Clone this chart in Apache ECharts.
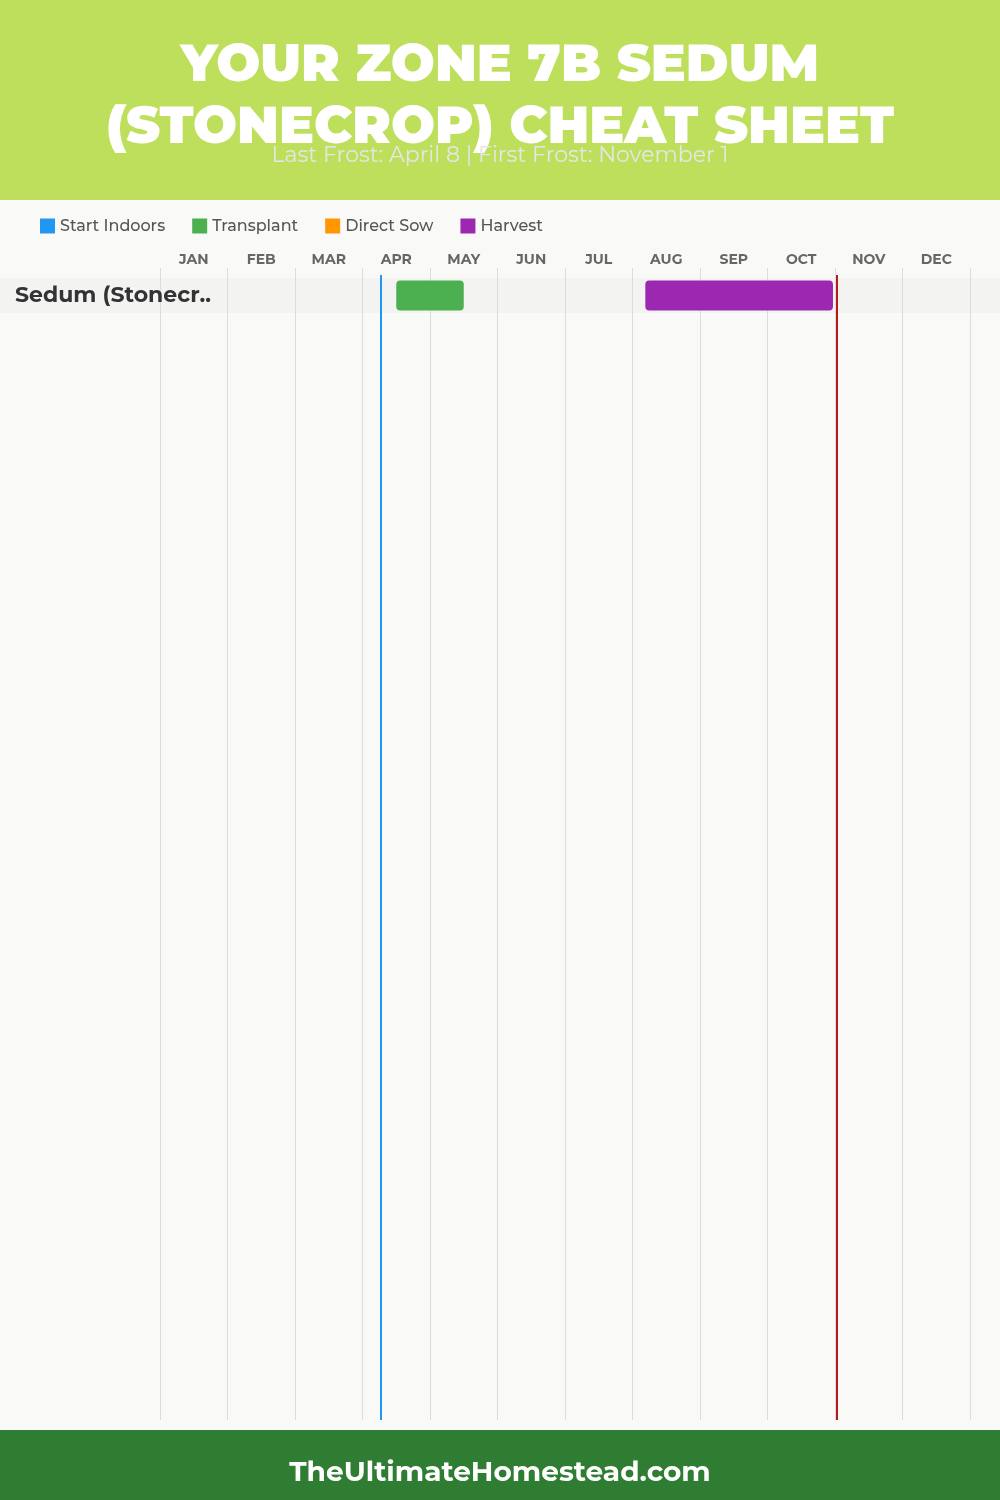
<!DOCTYPE html>
<html><head><meta charset="utf-8">
<script src="https://cdn.jsdelivr.net/npm/echarts@6/dist/echarts.min.js"></script>
<style>html,body{margin:0;padding:0;background:#f9f9f8}#c{width:1000px;height:1500px}</style>
</head><body><div id="c"></div>
<script>
const months = ['JAN','FEB','MAR','APR','MAY','JUN','JUL','AUG','SEP','OCT','NOV','DEC'];
const plants = ['Sedum (Stonecrop)'];
const startIndoors = [];
const transplant = [[0, 3.5, 4.5]];
const directSow = [];
const harvest = [[0, 7.19, 9.97]];
const lastFrost = 3.27;   // April 8
const firstFrost = 10.03; // November 1
const FONT = "Montserrat, 'Open Sans', 'DejaVu Sans', sans-serif";

const chart = echarts.init(document.getElementById('c'), null, {renderer:'canvas'});

function barRenderer(color){
  return function(params, api){
    const y = api.value(0);
    const s = api.coord([api.value(1), y]);
    const e = api.coord([api.value(2), y]);
    const h = api.size([0,1])[1] * 30/35;
    return {type:'rect', shape:{x:s[0], y:s[1]-h/2, width:e[0]-s[0], height:h, r:4},
      style:{fill:color}};
  };
}

const option = {
  backgroundColor:'#f9f9f8',
  title:[
    {text:'YOUR ZONE 7B SEDUM\n(STONECROP) CHEAT SHEET', left:'center', top:30,
     textStyle:{color:'#fff', fontSize:52, fontWeight:900, lineHeight:62, fontFamily:FONT}},
    {text:'Last Frost: April 8 | First Frost: November 1', left:'center', top:140,
     textStyle:{color:'#e6e6e6', fontSize:22, fontWeight:400, fontFamily:FONT}},
    {text:'TheUltimateHomestead.com', left:'center', top:1454,
     textStyle:{color:'#fff', fontSize:28, fontWeight:700, fontFamily:FONT}}
  ],
  graphic:[
    {type:'rect', z:-10, shape:{x:0,y:0,width:1000,height:200}, style:{fill:'#bedf5b'}},
    {type:'rect', z:-10, shape:{x:0,y:1430,width:1000,height:70}, style:{fill:'#2e7d32'}},
    {type:'rect', z:-10, shape:{x:0,y:278,width:1000,height:35}, style:{fill:'#f3f3f2'}}
  ],
  legend:{left:35, top:213, itemWidth:15, itemHeight:15, itemGap:27, icon:'rect',
    textStyle:{color:'#555', fontSize:16, fontWeight:500, fontFamily:FONT},
    data:['Start Indoors','Transplant','Direct Sow','Harvest']},
  grid:[
    {left:160, right:30, top:268, bottom:80},
    {left:160, right:30, top:278, height:35}
  ],
  xAxis:[
    {type:'category', gridIndex:0, position:'top', data:months, boundaryGap:true,
     axisLine:{show:false}, axisTick:{show:false},
     axisLabel:{color:'#666', fontSize:14, fontWeight:700, margin:1, fontFamily:FONT},
     splitLine:{show:true, lineStyle:{color:'#dcdcdc', width:1}}, z:0},
    {type:'value', gridIndex:0, min:0, max:12, show:false},
    {type:'value', gridIndex:1, min:0, max:12, show:false}
  ],
  yAxis:[
    {type:'value', gridIndex:0, min:0, max:1, inverse:true, show:false},
    {type:'category', gridIndex:1, data:plants, inverse:true,
     axisLine:{show:false}, axisTick:{show:false}, splitLine:{show:false},
     axisLabel:{align:'left', margin:145, color:'#333', fontSize:22, fontWeight:700, fontFamily:FONT,
       padding:[8,0,0,0],
       formatter:v => v.length > 14 ? v.slice(0,14) + '..' : v}}
  ],
  series:[
    {name:'Start Indoors', type:'custom', xAxisIndex:2, yAxisIndex:1, itemStyle:{color:'#2196f3'},
     renderItem:barRenderer('#2196f3'), encode:{x:[1,2], y:0}, data:startIndoors, z:5},
    {name:'Transplant', type:'custom', xAxisIndex:2, yAxisIndex:1, itemStyle:{color:'#4caf50'},
     renderItem:barRenderer('#4caf50'), encode:{x:[1,2], y:0}, data:transplant, z:5},
    {name:'Direct Sow', type:'custom', xAxisIndex:2, yAxisIndex:1, itemStyle:{color:'#ff9800'},
     renderItem:barRenderer('#ff9800'), encode:{x:[1,2], y:0}, data:directSow, z:5},
    {name:'Harvest', type:'custom', xAxisIndex:2, yAxisIndex:1, itemStyle:{color:'#9c27b0'},
     renderItem:barRenderer('#9c27b0'), encode:{x:[1,2], y:0}, data:harvest, z:5},
    {name:'frost', type:'line', xAxisIndex:1, yAxisIndex:0, data:[], z:6,
     markLine:{silent:true, symbol:'none', label:{show:false},
       data:[
         [{coord:[lastFrost,0.006], lineStyle:{color:'#2196f3', width:2, type:'solid'}},{coord:[lastFrost,1]}],
         [{coord:[firstFrost,0.006], lineStyle:{color:'#b71c1c', width:2, type:'solid'}},{coord:[firstFrost,1]}]
       ]}}
  ]
};
chart.setOption(option);
</script></body></html>
